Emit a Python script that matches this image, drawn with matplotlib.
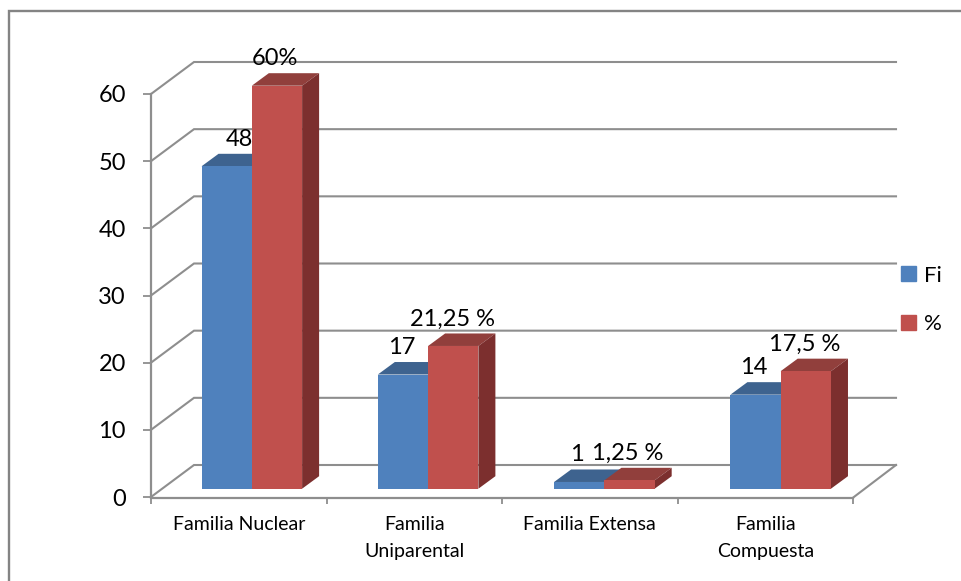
import matplotlib
matplotlib.use('Agg')
import numpy as np
import matplotlib.pyplot as plt
from matplotlib.lines import Line2D
from matplotlib.patches import Patch

plt.rcParams['font.family'] = ['Lato', 'DejaVu Sans']

# datos
categorias = ['Familia Nuclear', 'Familia\nUniparental', 'Familia Extensa', 'Familia\nCompuesta']
fi = [48, 17, 1, 14]
porcentaje = [60, 21.25, 1.25, 17.5]
etiquetas_fi = ['48', '17', '1', '14']
etiquetas_pct = ['60%', '21,25 %', '1,25 %', '17,5 %']
ticks_y = [0, 10, 20, 30, 40, 50, 60]

# estilo
W, H = 961, 581
GRIS = '#8e8e8e'
AZUL, AZUL_TOP, AZUL_LADO = '#4f81bd', '#3e638f', '#375a83'
ROJO, ROJO_TOP, ROJO_LADO = '#c0504d', '#913f3c', '#7c2f2e'

fig = plt.figure(figsize=(W / 100, H / 100), dpi=100)
fig.patch.set_facecolor('white')
ax = fig.add_axes([151 / W, (H - 497) / H, 702 / W, 403 / H])
ax.set_xlim(0, 4)
ax.set_ylim(0, 60)
ax.patch.set_alpha(0)

px_x = 4 / 702
px_y = 60 / 403

# marco exterior: solo arriba e izquierda
fig.add_artist(Line2D([9 / W, 9 / W, 1], [0, (H - 11) / H, (H - 11) / H], transform=fig.transFigure,
                      color='#848484', linewidth=1.7, solid_joinstyle='miter'))

# paredes y rejilla
prof_x = 43 * px_x
prof_y = 32 * px_y
for v in ticks_y:
    ax.plot([0, prof_x, 4 + prof_x], [v, v + prof_y, v + prof_y], color=GRIS, lw=1.5,
            clip_on=False, zorder=1, solid_joinstyle='miter')
ax.plot([4, 4 + prof_x], [-0.1, prof_y], color=GRIS, lw=1.5, clip_on=False, zorder=1)


def barra(x0, ancho, valor, c, c_top, c_lado):
    base = 8.3 * px_y
    dx = 17 * px_x
    dy = 12.5 * px_y
    top = base + valor
    x1 = x0 + ancho
    ax.bar(x0, valor, ancho, bottom=base, align='edge', color=c, zorder=3, clip_on=False)
    ax.fill([x0, x0 + dx, x1 + dx, x1], [top, top + dy, top + dy, top], color=c_top,
            lw=0, zorder=2.5, clip_on=False)
    ax.fill([x1, x1 + dx, x1 + dx, x1], [base, base + dy, top + dy, top], color=c_lado,
            lw=0, zorder=2.5, clip_on=False)


ancho = 0.2865
inicio = 0.288
paso = 1.0045
d_fi = [13, -1.5, -2, -2]
d_pct = [-2, -1, -2, -1]
for i in range(len(categorias)):
    x_a = i * paso + inicio
    x_r = x_a + ancho
    barra(x_a, ancho, fi[i], AZUL, AZUL_TOP, AZUL_LADO)
    barra(x_r, ancho, porcentaje[i], ROJO, ROJO_TOP, ROJO_LADO)
    ax.annotate(etiquetas_fi[i], (x_a + ancho / 2, fi[i] + 8.3 * px_y),
                xytext=(d_fi[i] * 0.72, 27 * 0.72), textcoords='offset points',
                ha='center', va='center', fontsize=17, color='black', zorder=5, annotation_clip=False)
    ax.annotate(etiquetas_pct[i], (x_r + ancho / 2, porcentaje[i] + 8.3 * px_y),
                xytext=(d_pct[i] * 0.72, 27 * 0.72), textcoords='offset points',
                ha='center', va='center', fontsize=17, color='black', zorder=5, annotation_clip=False)

# ejes
for s in ['top', 'right']:
    ax.spines[s].set_visible(False)
for s in ['left', 'bottom']:
    ax.spines[s].set_color(GRIS)
    ax.spines[s].set_linewidth(1.6)
ax.spines['bottom'].set_position(('outward', 1))
ax.set_yticks(ticks_y)
ax.tick_params(axis='y', length=6, width=1.3, color=GRIS, labelsize=17, pad=12, labelcolor='black')
ax.set_xticks(range(5))
ax.set_xticklabels([])
ax.tick_params(axis='x', which='major', length=4, width=1.3, color=GRIS)
ax.set_xticks(np.arange(len(categorias)) + 0.5, minor=True)
ax.set_xticklabels(categorias, minor=True, fontsize=14, linespacing=1.65, color='black')
ax.tick_params(axis='x', which='minor', length=0, pad=13)

# leyenda
fig.legend(handles=[Patch(color=AZUL, label='Fi'), Patch(color=ROJO, label='%')],
           loc='center left', bbox_to_anchor=(901 / W, (H - 300) / H), frameon=False,
           fontsize=16, handlelength=0.68, handleheight=0.68, handletextpad=0.35,
           labelspacing=1.3, borderpad=0, borderaxespad=0)

plt.savefig('out.png', dpi=100)
